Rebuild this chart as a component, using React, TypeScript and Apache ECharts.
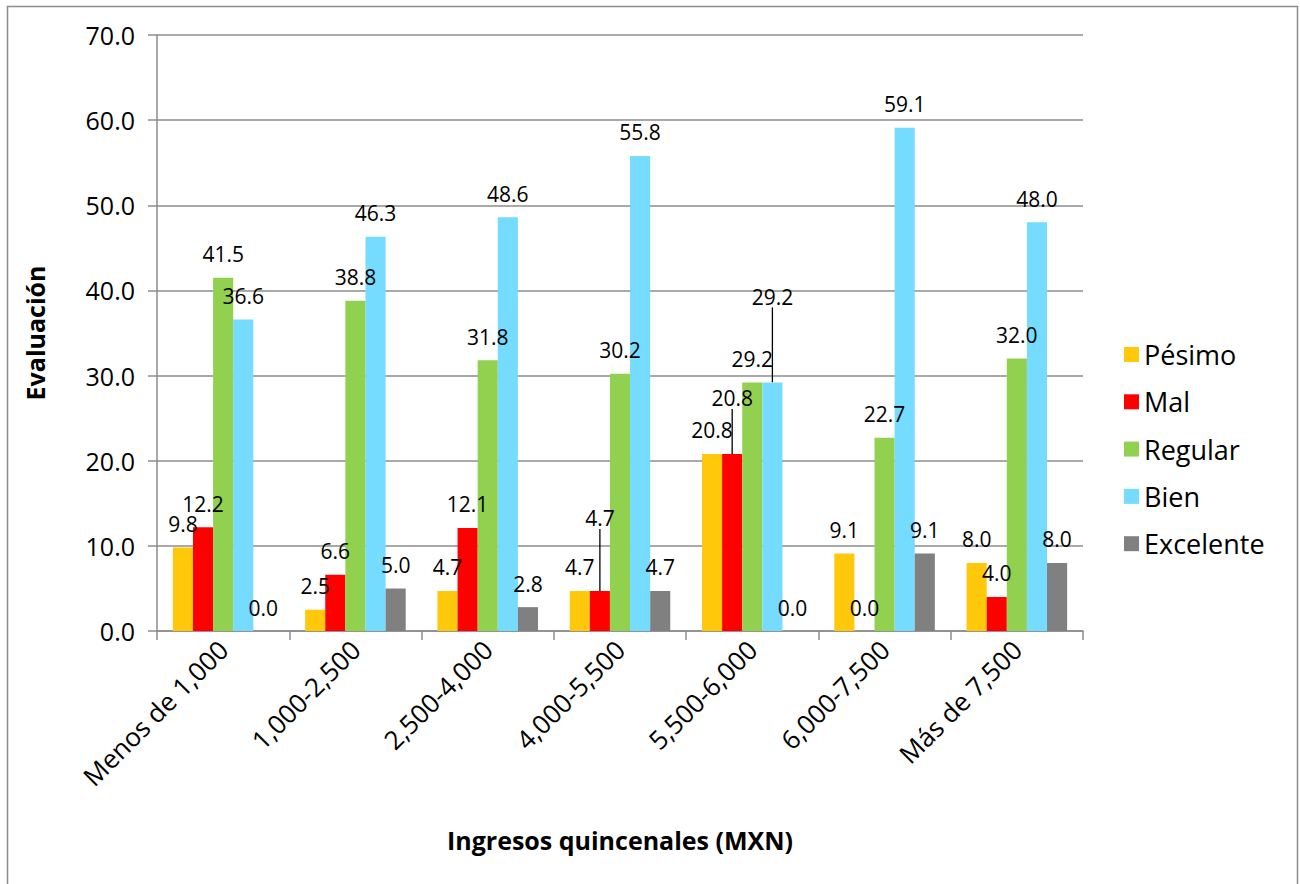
import React, { useEffect, useRef } from 'react';
import * as echarts from 'echarts';

const categories = ['Menos de 1,000', '1,000-2,500', '2,500-4,000', '4,000-5,500', '5,500-6,000', '6,000-7,500', 'Más de 7,500'];
const seriesNames = ['Pésimo', 'Mal', 'Regular', 'Bien', 'Excelente'];
const pesimo = [9.8, 2.5, 4.7, 4.7, 20.8, 9.1, 8.0];
const mal = [12.2, 6.6, 12.1, 4.7, 20.8, 0.0, 4.0];
const regular = [41.5, 38.8, 31.8, 30.2, 29.2, 22.7, 32.0];
const bien = [36.6, 46.3, 48.6, 55.8, 29.2, 59.1, 48.0];
const excelente = [0.0, 5.0, 2.8, 4.7, 0.0, 9.1, 8.0];
const yMin = 0;
const yMax = 70;
const yStep = 10;

const colors = ['#FFC80A', '#FF0000', '#92D050', '#75DBFF', '#808080'];
const FONT = '"Open Sans", sans-serif';
// labels moved up in the original, with a leader line: series-dataIndex -> dy
const movedLabels: Record<string, number> = { '1-3': -49, '1-4': -32, '3-4': -62 };

export default function App() {
  const ref = useRef<HTMLDivElement>(null);
  useEffect(() => {
    if (!ref.current) return;
    const chart = echarts.init(ref.current, null, { renderer: 'svg' });
    const allData = [pesimo, mal, regular, bien, excelente];
    const series = allData.map((arr, si) => ({
      name: seriesNames[si],
      type: 'bar',
      barGap: '0%',
      barCategoryGap: '24%',
      itemStyle: { color: colors[si] },
      label: {
        show: true,
        position: 'top',
        distance: 13,
        color: '#000',
        fontSize: 21,
        fontFamily: FONT,
        formatter: (p: any) => Number(p.value).toFixed(1),
      },
      labelLayout: (p: any) => {
        const k = `${p.seriesIndex}-${p.dataIndex}`;
        if (movedLabels[k] !== undefined) return { dy: movedLabels[k] };
        return {};
      },
      data: arr.map((v, di) => {
        const k = `${si}-${di}`;
        if (movedLabels[k] !== undefined) {
          return { value: v, labelLine: { show: true, lineStyle: { color: '#000', width: 1.3 } } };
        }
        return v;
      }),
    }));

    chart.setOption({
      animation: false,
      backgroundColor: '#fff',
      grid: { left: 157, right: 217, top: 35, bottom: 253, containLabel: false },
      legend: {
        orient: 'vertical',
        left: 1119,
        top: 336,
        icon: 'rect',
        itemWidth: 15,
        itemHeight: 15,
        itemGap: 20.3,
        textStyle: { fontSize: 27, lineHeight: 25, color: '#000', fontFamily: FONT },
        data: seriesNames,
      },
      xAxis: {
        type: 'category',
        data: categories,
        axisLine: { lineStyle: { color: '#8c8c8c', width: 1.5 } },
        axisTick: { show: true, alignWithLabel: false, length: 9, lineStyle: { color: '#8c8c8c', width: 1.5 } },
        axisLabel: { rotate: 45, fontSize: 26, color: '#000', fontFamily: FONT, margin: 14, interval: 0 },
      },
      yAxis: {
        type: 'value',
        min: yMin,
        max: yMax,
        interval: yStep,
        axisLine: { show: true, lineStyle: { color: '#8c8c8c', width: 1.5 } },
        axisTick: { show: true, length: 9, lineStyle: { color: '#8c8c8c', width: 1.5 } },
        splitLine: { lineStyle: { color: '#8c8c8c', width: 1.5 } },
        axisLabel: { fontSize: 25, color: '#000', fontFamily: FONT, margin: 22, formatter: (v: number) => v.toFixed(1) },
      },
      graphic: [
        {
          type: 'rect',
          shape: { x: 7.5, y: 6.5, width: 1290, height: 920 },
          style: { fill: 'none', stroke: '#8c8c8c', lineWidth: 1.5 },
          silent: true,
        },
        {
          type: 'text',
          x: 35,
          y: 333,
          rotation: Math.PI / 2,
          style: { text: 'Evaluación', fontSize: 25, fontWeight: 'bold', fontFamily: FONT, fill: '#000', align: 'center', verticalAlign: 'middle' },
        },
        {
          type: 'text',
          x: 620,
          y: 840,
          style: { text: 'Ingresos quincenales (MXN)', fontSize: 25, fontWeight: 'bold', fontFamily: FONT, fill: '#000', align: 'center', verticalAlign: 'middle' },
        },
      ],
      series,
    });
    return () => chart.dispose();
  }, []);
  return <div ref={ref} style={{ position: 'fixed', left: 0, top: 0, width: 1300, height: 884 }} />;
}
